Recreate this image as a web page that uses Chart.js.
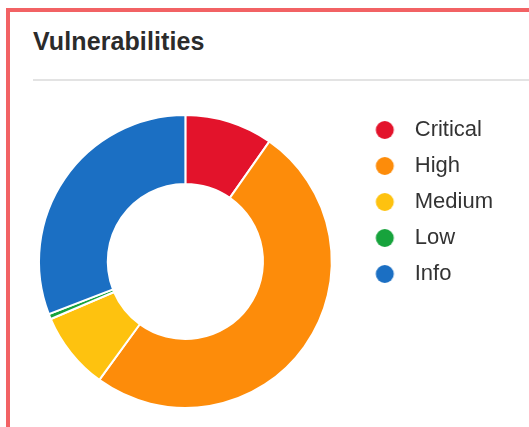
<!DOCTYPE html>
<html>
<head>
<meta charset="utf-8">
<script src="https://cdn.jsdelivr.net/npm/chart.js@4.4.1/dist/chart.umd.min.js"></script>
<style>
  body { margin: 0; background: #fff; font-family: "Liberation Sans", Arial, sans-serif; }
  .card { position: absolute; left: 6px; top: 8px; width: 523px; height: 430px;
          border-left: 4px solid #f26264; border-top: 4px solid #f26264; }
  .title { position: absolute; left: 33px; top: 29px; font-size: 25px; line-height: 25px;
           font-weight: bold; color: #2b2b2b; letter-spacing: 0.1px; }
  .rule { position: absolute; left: 33px; right: 0; top: 79px; height: 2px; background: #e3e3e3; }
  .wrap { position: absolute; left: 0; top: 100px; width: 529px; height: 322px; }
</style>
</head>
<body>
<div class="card"></div>
<div class="title">Vulnerabilities</div>
<div class="rule"></div>
<div class="wrap"><canvas id="myChart"></canvas></div>
<script>
var labels = ["Critical", "High", "Medium", "Low", "Info"];
var counts = [17, 88, 15, 1, 54];
var colors = ["#e3132b", "#fd8c0a", "#fec20f", "#17a33c", "#1b6fc3"];

// legend dots drawn off-centre so the text sits further right
function makeDot(color) {
    var c = document.createElement("canvas");
    c.width = 40;
    c.height = 20;
    var g = c.getContext("2d");
    g.fillStyle = color;
    g.beginPath();
    g.arc(29.5, 10, 9, 0, Math.PI * 2);
    g.fill();
    return c;
}
var dots = colors.map(makeDot);

chartTest();

function chartTest() {
    var baseLabels = Chart.overrides.doughnut.plugins.legend.labels.generateLabels;
    new Chart(document.getElementById("myChart"), {
        type: "doughnut",
        data: {
            labels: labels,
            datasets: [{
                data: counts,
                backgroundColor: colors,
                borderColor: "#ffffff",
                borderWidth: 2
            }]
        },
        options: {
            responsive: true,
            maintainAspectRatio: false,
            animation: false,
            cutout: "53%",
            layout: { padding: { left: 38, top: 5, bottom: 4, right: 26 } },
            plugins: {
                tooltip: { enabled: false },
                legend: {
                    position: "right",
                    align: "start",
                    labels: {
                        usePointStyle: true,
                        pointStyleWidth: 57,
                        padding: 14,
                        color: "#333333",
                        font: { family: "'Liberation Sans', Arial, sans-serif", size: 22 },
                        generateLabels: function (chart) {
                            return baseLabels(chart).map(function (it, i) {
                                it.pointStyle = dots[i];
                                return it;
                            });
                        }
                    }
                }
            }
        }
    });
}
</script>
</body>
</html>
